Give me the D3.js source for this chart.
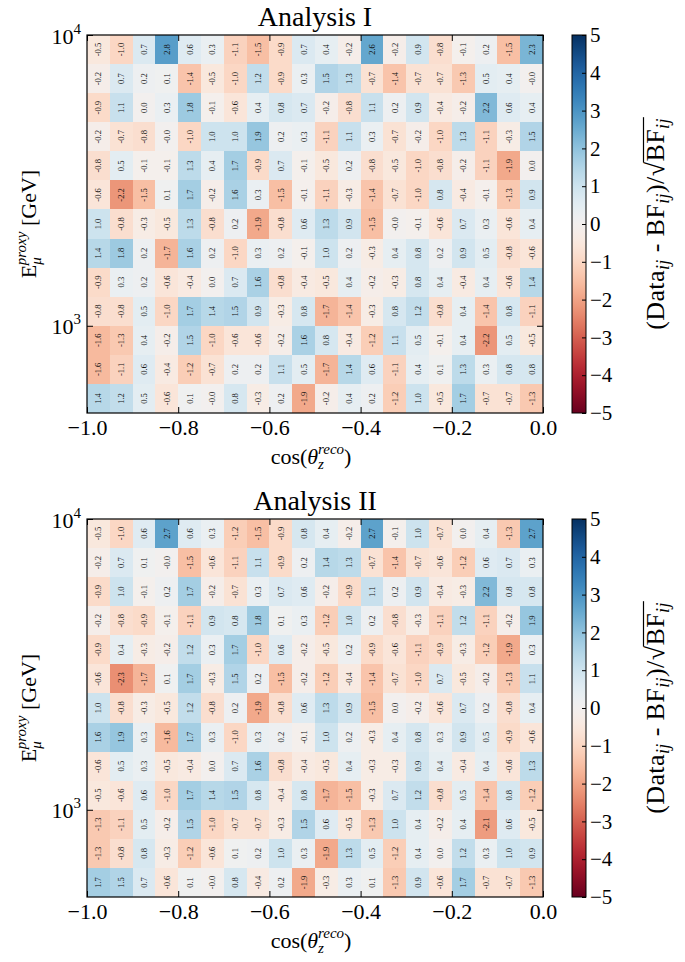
<!DOCTYPE html>
<html>
<head>
<meta charset="utf-8">
<script src="https://cdn.jsdelivr.net/npm/d3@7"></script>
<style>
  body { margin: 0; background: #fff; }
  svg { display: block; font-family: "Liberation Serif", "DejaVu Serif", serif; }
</style>
</head>
<body>
<svg id="chart" width="685" height="962"></svg>
<script>
// Bin edges: cos(theta_z^reco) in 0.05 steps, log10(E / GeV) in 0.1 steps
const cosEdges = [-1.00, -0.95, -0.90, -0.85, -0.80, -0.75, -0.70, -0.65, -0.60, -0.55,
                  -0.50, -0.45, -0.40, -0.35, -0.30, -0.25, -0.20, -0.15, -0.10, -0.05, 0.00];
const logEnergyEdges = [2.7, 2.8, 2.9, 3.0, 3.1, 3.2, 3.3, 3.4, 3.5, 3.6, 3.7, 3.8, 3.9, 4.0];

const xTickValues = [-1.0, -0.8, -0.6, -0.4, -0.2, 0.0];
const yTickValues = [1e3, 1e4];
const colorTicks = [-5, -4, -3, -2, -1, 0, 1, 2, 3, 4, 5];

// Pulls (Data - BF)/sqrt(BF); rows run from the highest energy bin down to the lowest
const analysisI = [
  [-0.5, -1.0, 0.7, 2.8, 0.6, 0.3, -1.1, -1.5, -0.9, 0.7, 0.4, -0.2, 2.6, -0.2, 0.9, -0.8, -0.1, 0.2, -1.5, 2.3],
  [-0.2, 0.7, 0.2, 0.1, -1.4, -0.5, -1.0, 1.2, -0.9, 0.3, 1.5, 1.3, -0.7, -1.4, -0.7, -0.7, -1.3, 0.5, 0.4, -0.0],
  [-0.9, 1.1, 0.0, 0.3, 1.8, -0.1, -0.6, 0.4, 0.8, 0.7, -0.2, -0.8, 1.1, 0.2, 0.9, -0.4, -0.2, 2.2, 0.6, 0.4],
  [-0.2, -0.7, -0.8, -0.0, -1.0, 1.0, 1.0, 1.9, 0.2, 0.3, -1.1, 1.1, 0.3, -0.7, -0.2, -1.0, 1.3, -1.1, -0.3, 1.5],
  [-0.8, 0.5, -0.1, -0.1, 1.3, 0.4, 1.7, -0.9, 0.7, -0.1, -0.5, 0.2, -0.8, -0.5, -1.0, -0.8, -0.2, -1.1, -1.9, 0.0],
  [-0.6, -2.2, -1.5, 0.1, 1.7, -0.2, 1.6, 0.3, -1.5, -0.1, -1.1, -0.3, -1.4, -0.7, -1.0, 0.8, -0.4, -0.1, -1.3, 0.9],
  [1.0, -0.8, -0.3, -0.5, 1.3, -0.8, 0.2, -1.9, -0.8, 0.6, 1.3, 0.9, -1.5, -0.0, -0.1, -0.6, 0.7, 0.3, -0.6, 0.4],
  [1.4, 1.8, 0.2, -1.7, 1.6, 0.2, -1.0, 0.3, 0.2, -0.1, 1.0, 0.2, -0.3, 0.4, 0.8, 0.2, 0.9, 0.5, -0.8, -0.6],
  [-0.9, 0.3, 0.2, -0.6, -0.4, 0.0, 0.7, 1.6, -0.8, -0.4, -0.5, 0.4, -0.2, -0.3, 0.8, 0.4, -0.4, 0.4, -0.6, 1.4],
  [-0.8, -0.8, 0.5, -1.0, 1.7, 1.4, 1.5, 0.9, -0.3, 0.8, -1.7, -1.4, -0.3, 0.8, 1.2, -0.8, 0.4, -1.4, 0.8, -1.1],
  [-1.6, -1.3, 0.4, -0.2, 1.5, -1.0, -0.6, -0.6, -0.2, 1.6, 0.8, -0.4, -1.2, 1.1, 0.5, -0.1, 0.4, -2.2, 0.5, -0.5],
  [-1.6, -1.1, 0.6, -0.4, -1.2, -0.7, 0.2, 0.2, 1.1, 0.5, -1.7, 1.4, 0.6, -1.1, 0.4, 0.1, 1.3, 0.3, 0.8, 0.8],
  [1.4, 1.2, 0.5, -0.6, 0.1, -0.0, 0.8, -0.3, 0.2, -1.9, -0.2, 0.4, 0.2, -1.2, 1.0, -0.5, 1.7, -0.7, -0.7, -1.3]
];

const analysisII = [
  [-0.5, -1.0, 0.6, 2.7, 0.6, 0.3, -1.2, -1.5, -0.9, 0.8, 0.4, -0.2, 2.7, -0.1, 1.0, -0.7, 0.0, 0.4, -1.3, 2.7],
  [-0.2, 0.7, 0.1, -0.0, -1.5, -0.6, -1.1, 1.1, -0.9, 0.2, 1.4, 1.3, -0.7, -1.4, -0.7, -0.6, -1.2, 0.6, 0.7, 0.3],
  [-0.9, 1.0, -0.1, 0.2, 1.7, -0.2, -0.7, 0.3, 0.7, 0.6, -0.2, -0.9, 1.1, 0.2, 0.9, -0.4, -0.3, 2.2, 0.8, 0.8],
  [-0.2, -0.8, -0.9, -0.1, -1.1, 0.9, 0.8, 1.8, 0.1, 0.3, -1.2, 1.0, 0.2, -0.8, -0.3, -1.1, 1.2, -1.1, -0.2, 1.9],
  [-0.9, 0.4, -0.3, -0.2, 1.2, 0.3, 1.7, -1.0, 0.6, -0.2, -0.5, 0.2, -0.9, -0.6, -1.1, -0.9, -0.3, -1.2, -1.9, 0.3],
  [-0.6, -2.3, -1.7, 0.1, 1.7, -0.3, 1.5, 0.2, -1.5, -0.2, -1.2, -0.4, -1.4, -0.7, -1.0, 0.7, -0.5, -0.2, -1.3, 1.1],
  [1.0, -0.8, -0.3, -0.5, 1.2, -0.8, 0.2, -1.9, -0.8, 0.6, 1.3, 0.9, -1.5, 0.0, -0.2, -0.6, 0.7, 0.2, -0.8, 0.4],
  [1.6, 1.9, 0.3, -1.6, 1.7, 0.3, -1.0, 0.3, 0.2, -0.1, 1.0, 0.2, -0.3, 0.4, 0.8, 0.3, 0.9, 0.5, -0.9, -0.6],
  [-0.6, 0.5, 0.3, -0.5, -0.4, 0.0, 0.7, 1.6, -0.8, -0.4, -0.5, 0.4, -0.3, -0.3, 0.9, 0.4, -0.4, 0.4, -0.6, 1.3],
  [-0.5, -0.6, 0.6, -1.0, 1.7, 1.4, 1.5, 0.8, -0.4, 0.8, -1.7, -1.5, -0.3, 0.7, 1.2, -0.8, 0.5, -1.4, 0.8, -1.2],
  [-1.3, -1.1, 0.5, -0.2, 1.5, -1.0, -0.7, -0.7, -0.3, 1.5, 0.6, -0.5, -1.3, 1.0, 0.4, -0.2, 0.4, -2.1, 0.6, -0.5],
  [-1.3, -0.8, 0.8, -0.3, -1.2, -0.6, 0.1, 0.2, 1.0, 0.3, -1.9, 1.3, 0.5, -1.2, 0.4, 0.0, 1.2, 0.3, 1.0, 0.9],
  [1.7, 1.5, 0.7, -0.6, 0.1, -0.0, 0.8, -0.4, 0.2, -1.9, -0.3, 0.3, 0.1, -1.3, 0.9, -0.6, 1.7, -0.7, -0.7, -1.3]
];

const panels = [
  { title: "Analysis I", values: analysisI, top: 35 },
  { title: "Analysis II", values: analysisII, top: 519 }
];

const svg = d3.select("#chart");
const plotLeft = 87, plotRight = 543, plotHeight = 378;
const barLeft = 572, barWidth = 14;

const color = v => d3.interpolateRdBu((v + 5) / 10);
const cellLabel = v => (v < 0 || Object.is(v, -0) ? "-" : "") + Math.abs(v).toFixed(1);
const minus = s => s.replace("-", "\u2212");

// shared colour ramp for the colour bars
const grad = svg.append("defs").append("linearGradient")
  .attr("id", "rdbu").attr("x1", 0).attr("y1", 0).attr("x2", 0).attr("y2", 1);
grad.selectAll("stop").data(d3.range(0, 1.0001, 0.02)).join("stop")
  .attr("offset", d => d)
  .attr("stop-color", d => d3.interpolateRdBu(1 - d));

panels.forEach(p => {
  const top = p.top, bottom = top + plotHeight;
  const x = d3.scaleLinear().domain([cosEdges[0], cosEdges[cosEdges.length - 1]]).range([plotLeft, plotRight]);
  const y = d3.scaleLog()
    .domain([Math.pow(10, logEnergyEdges[0]), Math.pow(10, logEnergyEdges[logEnergyEdges.length - 1])])
    .range([bottom, top]);
  const nRows = logEnergyEdges.length - 1;

  const cells = [];
  p.values.forEach((row, r) => row.forEach((v, c) => {
    const hiIdx = nRows - r, loIdx = nRows - r - 1;
    cells.push({
      v,
      x0: x(cosEdges[c]), x1: x(cosEdges[c + 1]),
      y0: y(Math.pow(10, logEnergyEdges[hiIdx])), y1: y(Math.pow(10, logEnergyEdges[loIdx]))
    });
  }));

  const g = svg.append("g");

  g.selectAll("rect.cell").data(cells).join("rect")
    .attr("class", "cell")
    .attr("x", d => d.x0).attr("y", d => d.y0)
    .attr("width", d => d.x1 - d.x0).attr("height", d => d.y1 - d.y0)
    .attr("fill", d => color(d.v))
    .attr("shape-rendering", "crispEdges");

  g.selectAll("text.val").data(cells).join("text")
    .attr("class", "val")
    .attr("transform", d => `translate(${(d.x0 + d.x1) / 2},${(d.y0 + d.y1) / 2}) rotate(-90)`)
    .attr("text-anchor", "middle")
    .attr("dominant-baseline", "central")
    .attr("font-size", 8.5)
    .attr("fill", "#111")
    .text(d => cellLabel(d.v));

  // inward ticks on all four sides
  const axB = g.append("g").attr("transform", `translate(0,${bottom})`)
    .call(d3.axisBottom(x).tickValues(xTickValues).tickSizeInner(-6).tickSizeOuter(0).tickPadding(6)
      .tickFormat(d => minus(d3.format(".1f")(d))));
  axB.selectAll("text").attr("font-size", 22).attr("fill", "#000")
    .attr("font-family", "'Liberation Serif', serif");
  g.append("g").attr("transform", `translate(0,${top})`)
    .call(d3.axisTop(x).tickValues(xTickValues).tickSizeInner(-6).tickSizeOuter(0).tickFormat(""));
  const axL = g.append("g").attr("transform", `translate(${plotLeft},0)`)
    .call(d3.axisLeft(y).tickValues(yTickValues).tickSizeInner(-6).tickSizeOuter(0).tickFormat(""));
  g.append("g").attr("transform", `translate(${plotRight},0)`)
    .call(d3.axisRight(y).tickValues(yTickValues).tickSizeInner(-6).tickSizeOuter(0).tickFormat(""));
  g.selectAll(".domain").remove();
  g.selectAll(".tick line").attr("stroke", "#000").attr("stroke-width", 1);

  // 10^n labels on the energy axis
  axL.selectAll(".tick").each(function(d) {
    const t = d3.select(this).append("text")
      .attr("x", -6).attr("y", 8)
      .attr("text-anchor", "end").attr("fill", "#000")
      .attr("font-family", "'Liberation Serif', serif")
      .attr("font-size", 22);
    t.append("tspan").text("10");
    t.append("tspan").attr("font-size", 15).attr("dy", -10).text(Math.round(Math.log10(d)));
  });

  g.append("rect")
    .attr("x", plotLeft).attr("y", top)
    .attr("width", plotRight - plotLeft).attr("height", plotHeight)
    .attr("fill", "none").attr("stroke", "#000").attr("stroke-width", 1.2);

  // title
  g.append("text")
    .attr("x", (plotLeft + plotRight) / 2).attr("y", top - 9)
    .attr("text-anchor", "middle").attr("font-size", 28).attr("fill", "#000")
    .text(p.title);

  // x label: cos(theta_z^reco)
  const xl = g.append("text")
    .attr("x", (plotLeft + plotRight) / 2 - 4).attr("y", bottom + 51)
    .attr("text-anchor", "middle").attr("font-size", 22).attr("fill", "#000");
  xl.append("tspan").text("cos(");
  xl.append("tspan").attr("font-style", "italic").text("\u03b8");
  xl.append("tspan").attr("font-style", "italic").attr("font-size", 15).attr("dy", 5).text("z");
  xl.append("tspan").attr("font-style", "italic").attr("font-size", 15).attr("dx", -6).attr("dy", -15).text("reco");
  xl.append("tspan").attr("dy", 10).text(")");

  // y label: E_mu^proxy [GeV]
  const yl = g.append("text")
    .attr("transform", `translate(36,${(top + bottom) / 2}) rotate(-90)`)
    .attr("text-anchor", "middle").attr("font-size", 22).attr("fill", "#000");
  yl.append("tspan").text("E");
  yl.append("tspan").attr("font-style", "italic").attr("font-size", 15).attr("dy", 5).text("\u03bc");
  yl.append("tspan").attr("font-style", "italic").attr("font-size", 15).attr("dx", -8).attr("dy", -15).text("proxy");
  yl.append("tspan").attr("dy", 10).text(" [GeV]");

  // colour bar
  const cb = d3.scaleLinear().domain([-5, 5]).range([bottom, top]);
  g.append("rect")
    .attr("x", barLeft).attr("y", top).attr("width", barWidth).attr("height", plotHeight)
    .attr("fill", "url(#rdbu)");
  const axC = g.append("g").attr("transform", `translate(${barLeft + barWidth},0)`)
    .call(d3.axisRight(cb).tickValues(colorTicks).tickSizeInner(-4).tickSizeOuter(0).tickPadding(4)
      .tickFormat(d => minus(String(d))));
  axC.select(".domain").remove();
  axC.selectAll(".tick line").attr("stroke", "#000");
  axC.selectAll("text").attr("font-size", 21).attr("fill", "#000")
    .attr("font-family", "'Liberation Serif', serif");
  g.append("rect")
    .attr("x", barLeft).attr("y", top).attr("width", barWidth).attr("height", plotHeight)
    .attr("fill", "none").attr("stroke", "#000").attr("stroke-width", 1);

  // colour bar label: (Data_ij - BF_ij)/sqrt(BF_ij)
  const clg = g.append("g")
    .attr("transform", `translate(664,${(top + bottom) / 2}) rotate(-90)`);
  const cl = clg.append("text")
    .attr("text-anchor", "middle").attr("font-size", 26).attr("letter-spacing", 0.4).attr("fill", "#000");
  cl.append("tspan").text("(Data");
  cl.append("tspan").attr("font-style", "italic").attr("font-size", 18).attr("dy", 5).text("ij");
  cl.append("tspan").attr("dy", -5).text(" - BF");
  cl.append("tspan").attr("font-style", "italic").attr("font-size", 18).attr("dy", 5).text("ij");
  cl.append("tspan").attr("dy", -5).text(")/\u221a");
  cl.append("tspan").text("BF");
  cl.append("tspan").attr("font-style", "italic").attr("font-size", 18).attr("dy", 5).text("ij");
  // radical bar over BF_ij
  const node = cl.node();
  const nChars = node.getNumberOfChars();
  const rootIdx = node.textContent.lastIndexOf("\u221a");
  const x0 = node.getEndPositionOfChar(rootIdx).x - 1;
  const x1 = node.getEndPositionOfChar(nChars - 1).x + 1;
  clg.append("line")
    .attr("x1", x0).attr("x2", x1).attr("y1", -20.5).attr("y2", -20.5)
    .attr("stroke", "#000").attr("stroke-width", 1.2);
});
</script>
</body>
</html>
